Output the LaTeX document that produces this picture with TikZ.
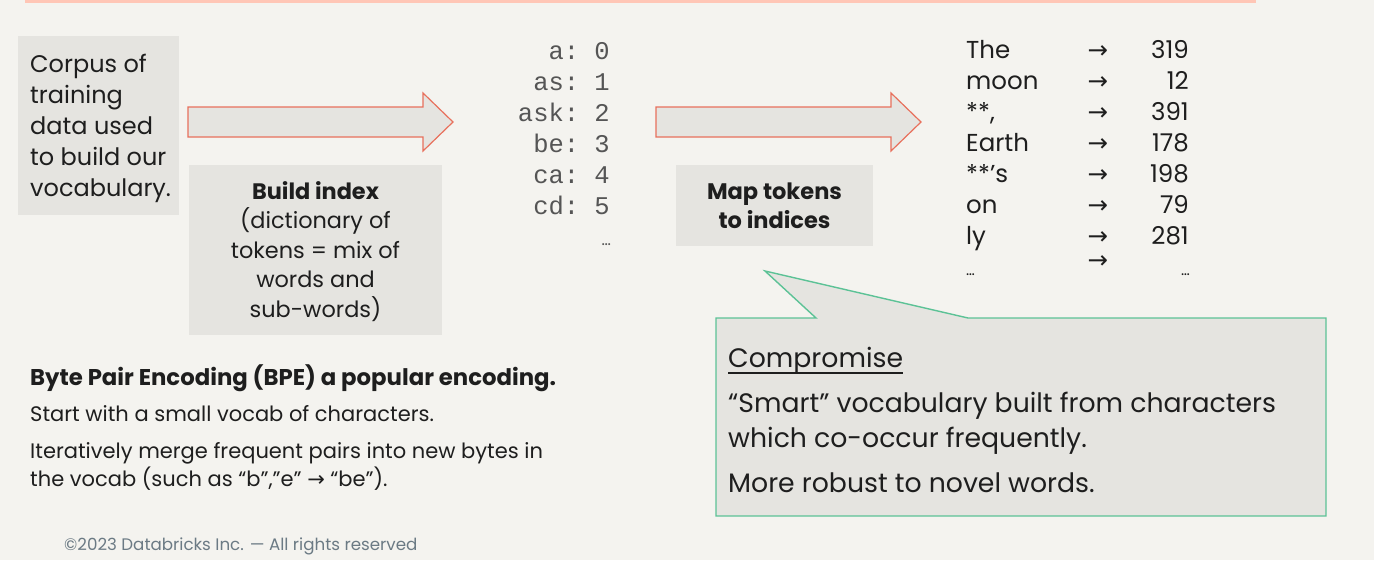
\documentclass[tikz,border=0pt]{standalone}
\usepackage{fontspec}
\setmainfont{Poppins}
\setmonofont{Liberation Mono}
\newfontfamily\symfont{DejaVu Sans}
\definecolor{bg}{HTML}{F4F3EF}
\definecolor{boxfill}{HTML}{E5E4E0}
\definecolor{coral}{HTML}{E8705C}
\definecolor{peach}{HTML}{FFC6B6}
\definecolor{mint}{HTML}{5CC296}
\definecolor{ink}{HTML}{1E1E1E}
\definecolor{monogrey}{HTML}{555555}
\definecolor{foot}{HTML}{6B7A84}
\newcommand{\rarr}{{\symfont →}}
\tikzset{
  panel/.style={fill=boxfill, draw=none},
  blockarrow/.style={fill=boxfill, draw=coral, line width=1.2pt, line join=miter},
  callout/.style={fill=boxfill, draw=mint, line width=1.4pt, line join=miter},
  txt/.style={inner sep=0pt, text=ink, anchor=base west},
  ctxt/.style={inner sep=0pt, text=ink, anchor=base},
  mono/.style={inner sep=0pt, text=monogrey, anchor=base east, font=\ttfamily\fontsize{25.5}{31}\selectfont},
  tok/.style={inner sep=0pt, text=ink, font=\fontsize{24.5}{31}\selectfont},
}
\begin{document}
\begin{tikzpicture}[x=1pt,y=-1pt]
  % canvas
  \fill[bg] (0,0) rectangle (1374,560);
  \useasboundingbox (0,0) rectangle (1374,560);
  % rule along the top edge
  \fill[peach] (25,0) rectangle (1256,2.5);

  % corpus panel
  \fill[panel] (18,36) rectangle (179,215);
  \node[txt, font=\fontsize{24}{31}\selectfont] (corpus1) at (30,72) {Corpus of};
  \node[txt, font=\fontsize{24}{31}\selectfont] (corpus2) at (30,103) {training};
  \node[txt, font=\fontsize{24}{31}\selectfont] (corpus3) at (30,134) {data used};
  \node[txt, font=\fontsize{24}{31}\selectfont] (corpus4) at (30,165) {to build our};
  \node[txt, font=\fontsize{24}{31}\selectfont] (corpus5) at (30,196) {vocabulary.};

  % first block arrow
  \draw[blockarrow] (188,107) -- (423,107) -- (423,93) -- (453,122) -- (423,151)
    -- (423,137) -- (188,137) -- cycle;

  % build-index panel
  \fill[panel] (189,165) rectangle (442,335);
  \node[ctxt, font=\bfseries\fontsize{22.4}{29}\selectfont] (build1) at (315.5,199) {Build index};
  \node[ctxt, font=\fontsize{22.4}{29}\selectfont] (build2) at (315.5,228.5) {(dictionary of};
  \node[ctxt, font=\fontsize{22.4}{29}\selectfont] (build3) at (315.5,258) {tokens = mix of};
  \node[ctxt, font=\fontsize{22.4}{29}\selectfont] (build4) at (315.5,287.5) {words and};
  \node[ctxt, font=\fontsize{22.4}{29}\selectfont] (build5) at (315.5,317) {sub-words)};

  % vocabulary index
  \node[mono] (v0) at (610,59)  {a: 0};
  \node[mono] (v1) at (610,90)  {as: 1};
  \node[mono] (v2) at (610,121) {ask: 2};
  \node[mono] (v3) at (610,152) {be: 3};
  \node[mono] (v4) at (610,183) {ca: 4};
  \node[mono] (v5) at (610,214) {cd: 5};
  \node[inner sep=0pt, text=monogrey, anchor=base east, font=\fontsize{16}{20}\selectfont] (v6) at (611,245) {…};

  % second block arrow
  \draw[blockarrow] (656,107) -- (891,107) -- (891,93) -- (921,122) -- (891,151)
    -- (891,137) -- (656,137) -- cycle;

  % map panel
  \fill[panel] (676,165) rectangle (873,246);
  \node[ctxt, font=\bfseries\fontsize{22.5}{29}\selectfont] (map1) at (774.5,199) {Map tokens};
  \node[ctxt, font=\bfseries\fontsize{22.5}{29}\selectfont] (map2) at (774.5,228.5) {to indices};

  % token to index table
  \foreach \w/\n/\y [count=\i] in {The/319/58, moon/12/89, {**,}/391/120, Earth/178/151,
      {**’s}/198/182, on/79/213, ly/281/244} {
    \node[tok, anchor=base west] (w\i) at (966,\y) {\w};
    \node[tok, anchor=base] (a\i) at (1098,\y) {\rarr};
    \node[tok, anchor=base east] (n\i) at (1189,\y) {\n};
  }
  \node[tok, anchor=base west, font=\fontsize{15}{20}\selectfont] (w8) at (966,275) {…};
  \node[tok, anchor=base] (a8) at (1098,268) {\rarr};
  \node[tok, anchor=base east, font=\fontsize{15}{20}\selectfont] (n8) at (1190,275) {…};

  % speech-bubble callout
  \draw[callout] (716,318) -- (816,318) -- (765,271) -- (968,318) -- (1326,318)
    -- (1326,516) -- (716,516) -- cycle;
  \node[txt, font=\fontsize{26.7}{30}\selectfont] (comp) at (728,367) {Compromise};
  \draw[ink, line width=1.2pt] (728,373) -- (comp.east |- 0,373);
  \node[txt, font=\fontsize{26.7}{30}\selectfont] (smart1) at (728,412)
    {“Smart” vocabulary built from characters};
  \node[txt, font=\fontsize{26.7}{30}\selectfont] (smart2) at (728,447)
    {which co-occur frequently.};
  \node[txt, font=\fontsize{26.7}{30}\selectfont] (robust) at (728,492) {More robust to novel words.};

  % byte pair encoding notes
  \node[txt, font=\bfseries\fontsize{22.8}{26}\selectfont] (bpe) at (30,385)
    {Byte Pair Encoding (BPE) a popular encoding.};
  \node[txt, font=\fontsize{21}{26}\selectfont] (start) at (30,421)
    {Start with a small vocab of characters.};
  \node[txt, font=\fontsize{21}{26}\selectfont] (merge1) at (30,458)
    {Iteratively merge frequent pairs into new bytes in};
  \node[txt, font=\fontsize{21}{26}\selectfont] (merge2) at (30,486)
    {the vocab (such as “b”,”e” \rarr{} “be”).};

  % footer
  \node[txt, text=foot, font=\fontsize{16.7}{20}\selectfont] (footer) at (64,550)
    {©2023 Databricks Inc. — All rights reserved};
\end{tikzpicture}
\end{document}
